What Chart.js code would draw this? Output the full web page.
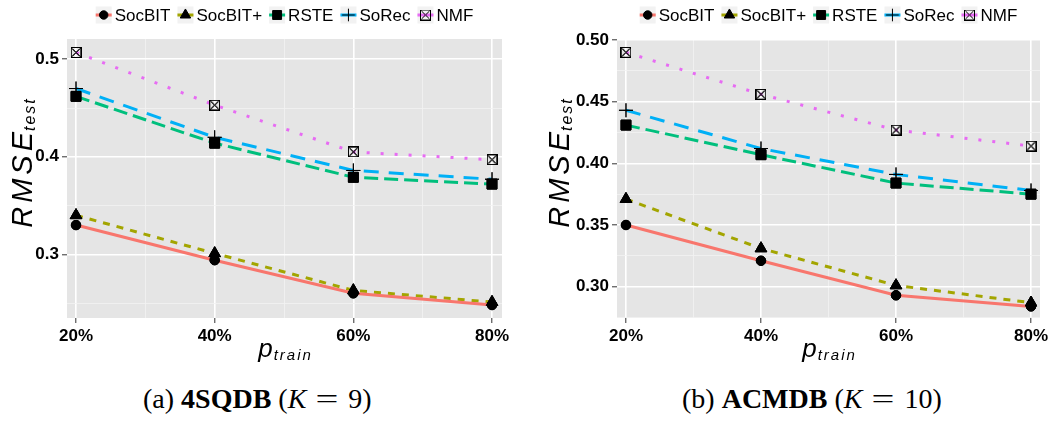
<!DOCTYPE html>
<html>
<head>
<meta charset="utf-8">
<script src="https://cdn.jsdelivr.net/npm/chart.js@4/dist/chart.umd.min.js"></script>
<style>
  html, body { margin: 0; padding: 0; background: #fff; }
  body { width: 1055px; height: 423px; position: relative; overflow: hidden; }
  canvas { position: absolute; top: 0; }
  #chartSqdb { left: 0; }
  #chartAcmdb { left: 527px; }
  .caption {
    position: absolute; top: 385px;
    font-family: 'Liberation Serif', serif; font-size: 28px; line-height: 28px;
    white-space: nowrap; color: #000;
  }
  .caption .eq { display: inline-block; width: 42px; text-align: center; transform: scaleX(1.45); }
</style>
</head>
<body>
<canvas id="chartSqdb" width="527" height="370"></canvas>
<canvas id="chartAcmdb" width="528" height="370"></canvas>
<div class="caption" style="left:143px">(a) <b>4SQDB</b> (<i>K</i><span class="eq">=</span>9)</div>
<div class="caption" style="left:682px">(b) <b>ACMDB</b> (<i>K</i><span class="eq">=</span>10)</div>

<script>
// ---- DATA ----
const trainShares = [20, 40, 60, 80];      // p_train, %
const trainMinor = [30, 50, 70];
const seriesNames = ['SocBIT', 'SocBIT+', 'RSTE', 'SoRec', 'NMF'];

// 4SQDB, K = 9
const sqdbSocBIT = [0.330, 0.294, 0.260, 0.248];
const sqdbSocBITPlus = [0.340, 0.301, 0.263, 0.251];
const sqdbRSTE = [0.462, 0.414, 0.379, 0.372];
const sqdbSoRec = [0.470, 0.420, 0.386, 0.377];
const sqdbNMF = [0.507, 0.453, 0.405, 0.397];
const sqdbYMajor = [0.3, 0.4, 0.5];
const sqdbYMinor = [0.25, 0.35, 0.45];

// ACMDB, K = 10
const acmSocBIT = [0.350, 0.321, 0.293, 0.284];
const acmSocBITPlus = [0.371, 0.331, 0.301, 0.287];
const acmRSTE = [0.431, 0.407, 0.384, 0.375];
const acmSoRec = [0.443, 0.412, 0.391, 0.378];
const acmNMF = [0.490, 0.456, 0.427, 0.414];
const acmYMajor = [0.30, 0.35, 0.40, 0.45, 0.50];
const acmYMinor = [0.275, 0.325, 0.375, 0.425, 0.475];

// ---- MARKERS / STYLES ----
// square with a cross in it (NMF)
const boxCross = document.createElement('canvas');
boxCross.width = 11;
boxCross.height = 11;
(function () {
  const c = boxCross.getContext('2d');
  c.strokeStyle = '#000';
  c.lineWidth = 1;
  c.strokeRect(0.5, 0.5, 10, 10);
  c.beginPath();
  c.moveTo(1.5, 1.5); c.lineTo(9.5, 9.5);
  c.moveTo(9.5, 1.5); c.lineTo(1.5, 9.5);
  c.stroke();
})();

const seriesStyles = [
  { color: '#F8766D', dash: [], marker: 'circle', radius: 4.7 },
  { color: '#A3A500', dash: [7, 7], marker: 'triangle', radius: 6.7 },
  { color: '#00BF7D', dash: [14, 6], marker: 'rect', radius: 7 },
  { color: '#00B0F6', dash: [15, 10], marker: 'cross', radius: 7 },
  { color: '#E76BF3', dash: [3, 11], marker: boxCross, radius: 6 },
];

const FONT = '"Liberation Sans", Arial, sans-serif';

function isIn(list, v) {
  return list.some(m => Math.abs(m - v) < 1e-9);
}

function buildDatasets(seriesValues) {
  return seriesValues.map((values, i) => ({
    label: seriesNames[i],
    data: values.map((v, j) => ({ x: trainShares[j], y: v })),
    borderColor: seriesStyles[i].color,
    borderWidth: 3,
    borderDash: seriesStyles[i].dash,
    borderCapStyle: 'butt',
    pointStyle: seriesStyles[i].marker,
    pointRadius: seriesStyles[i].radius,
    pointBackgroundColor: '#000',
    pointBorderColor: '#000',
    pointBorderWidth: 1,
    tension: 0,
    fill: false,
  }));
}

// text made of runs (base + subscript), drawn char by char
function runsWidth(ctx, runs) {
  let w = 0;
  runs.forEach((r, k) => {
    ctx.font = r.font;
    for (const ch of r.text) w += ctx.measureText(ch).width + r.spacing;
    w -= r.spacing;
    if (k < runs.length - 1) w += r.gap || 0;
  });
  return w;
}
function drawRuns(ctx, runs, x0, y0) {
  let x = x0;
  runs.forEach(r => {
    ctx.font = r.font;
    for (const ch of r.text) {
      ctx.fillText(ch, x, y0 + r.dy);
      x += ctx.measureText(ch).width + r.spacing;
    }
    x += (r.gap || 0) - r.spacing;
  });
}

const yTitleRuns = [
  { text: 'RMSE', font: 'italic 29px ' + FONT, dy: 0, spacing: 4, gap: 1 },
  { text: 'test', font: 'italic 16px ' + FONT, dy: 3, spacing: 2 },
];
const xTitleRuns = [
  { text: 'p', font: 'italic 26px ' + FONT, dy: 0, spacing: 0, gap: 1 },
  { text: 'train', font: 'italic 15px ' + FONT, dy: 3, spacing: 2 },
];

// ---- PLUGIN: panel, points on top, legend, axis titles ----
const ggPanel = {
  id: 'ggPanel',
  beforeDraw(chart) {
    const { ctx, chartArea: a } = chart;
    ctx.save();
    ctx.fillStyle = '#E5E5E5';
    ctx.fillRect(a.left, a.top, a.right - a.left, a.bottom - a.top);
    ctx.restore();
  },
  afterDatasetsDraw(chart) {
    // markers above every line
    chart.data.datasets.forEach((ds, i) => {
      chart.getDatasetMeta(i).data.forEach(pt => pt.draw(chart.ctx, chart.chartArea));
    });
  },
  afterDraw(chart, args, opts) {
    const { ctx, chartArea: a } = chart;
    ctx.save();

    // legend
    ctx.font = '17px ' + FONT;
    ctx.textBaseline = 'middle';
    ctx.textAlign = 'left';
    const key = 16, gapText = 3, gapItem = 7, cy = 15;
    const items = chart.data.datasets.map(ds => ({ ds, w: ctx.measureText(ds.label).width }));
    const total = items.reduce((s, it) => s + key + gapText + it.w, 0) + gapItem * (items.length - 1);
    let x = (a.left + a.right) / 2 - total / 2;
    items.forEach(({ ds, w }) => {
      ctx.fillStyle = '#F2F2F2';
      ctx.fillRect(x, cy - 8.5, key, 17);
      ctx.strokeStyle = ds.borderColor;
      ctx.lineWidth = 3;
      ctx.setLineDash([]);
      ctx.beginPath();
      ctx.moveTo(x, cy);
      ctx.lineTo(x + key, cy);
      ctx.stroke();
      ctx.fillStyle = '#000';
      ctx.strokeStyle = '#000';
      ctx.lineWidth = 1;
      Chart.helpers.drawPoint(ctx, {
        pointStyle: ds.pointStyle, radius: ds.pointRadius * 0.9, borderWidth: 1, rotation: 0,
      }, x + key / 2, cy);
      ctx.font = '17px ' + FONT;
      ctx.fillStyle = '#000';
      ctx.fillText(ds.label, x + key + gapText, cy + 1);
      x += key + gapText + w + gapItem;
    });

    // y title, rotated
    ctx.textBaseline = 'alphabetic';
    ctx.fillStyle = '#000';
    const yw = runsWidth(ctx, yTitleRuns);
    ctx.save();
    ctx.translate(opts.yTitleX, (a.top + a.bottom) / 2 - 15 + yw / 2);
    ctx.rotate(-Math.PI / 2);
    drawRuns(ctx, yTitleRuns, 0, 0);
    ctx.restore();

    // x title
    const xw = runsWidth(ctx, xTitleRuns);
    drawRuns(ctx, xTitleRuns, (a.left + a.right) / 2 - xw / 2, opts.xTitleY);

    ctx.restore();
  },
};

function makeChart(canvasId, seriesValues, yMajor, yMinor, yDigits, cfg) {
  const xTicks = [...trainShares, ...trainMinor].sort((p, q) => p - q);
  const yTicks = [...yMajor, ...yMinor].sort((p, q) => p - q);
  const gridFor = major => ({
    color: c => (c.tick && isIn(major, c.tick.value)) ? '#FFFFFF' : '#F2F2F2',
    lineWidth: c => (c.tick && isIn(major, c.tick.value)) ? 1.6 : 0.8,
    tickColor: c => (c.tick && isIn(major, c.tick.value)) ? '#333333' : 'rgba(0,0,0,0)',
    tickWidth: 1,
    tickLength: 5,
  });
  const tickFont = { family: FONT, size: 17, weight: 'bold' };

  return new Chart(document.getElementById(canvasId), {
    type: 'line',
    data: { datasets: buildDatasets(seriesValues) },
    options: {
      responsive: false,
      animation: false,
      devicePixelRatio: 1,
      layout: { padding: { top: 39, left: 0, right: cfg.padRight, bottom: 22 } },
      plugins: {
        legend: { display: false },
        tooltip: { enabled: false },
        ggPanel: { yTitleX: cfg.yTitleX, xTitleY: 356.5 },
      },
      scales: {
        x: {
          type: 'linear',
          min: cfg.xMin,
          max: cfg.xMax,
          afterBuildTicks: s => { s.ticks = xTicks.map(v => ({ value: v })); },
          afterFit: s => { s.height = 30; },
          grid: gridFor(trainShares),
          border: { display: false },
          ticks: {
            autoSkip: false,
            maxRotation: 0,
            padding: 3,
            color: '#000',
            font: tickFont,
            callback: v => isIn(trainShares, v) ? v + '%' : '',
          },
        },
        y: {
          type: 'linear',
          min: cfg.yMin,
          max: cfg.yMax,
          afterBuildTicks: s => { s.ticks = yTicks.map(v => ({ value: v })); },
          afterFit: s => { s.width = cfg.yAxisWidth; },
          grid: gridFor(yMajor),
          border: { display: false },
          ticks: {
            autoSkip: false,
            padding: 3,
            color: '#000',
            font: tickFont,
            callback: v => isIn(yMajor, v) ? v.toFixed(yDigits) : '',
          },
        },
      },
    },
    plugins: [ggPanel],
  });
}

makeChart('chartSqdb',
  [sqdbSocBIT, sqdbSocBITPlus, sqdbRSTE, sqdbSoRec, sqdbNMF],
  sqdbYMajor, sqdbYMinor, 1,
  { xMin: 18.70, xMax: 81.44, yMin: 0.2347, yMax: 0.5208, yAxisWidth: 67, padRight: 25, yTitleX: 32 });

makeChart('chartAcmdb',
  [acmSocBIT, acmSocBITPlus, acmRSTE, acmSoRec, acmNMF],
  acmYMajor, acmYMinor, 2,
  { xMin: 18.67, xMax: 81.33, yMin: 0.2746, yMax: 0.5008, yAxisWidth: 90, padRight: 15, yTitleX: 42 });
</script>
</body>
</html>
